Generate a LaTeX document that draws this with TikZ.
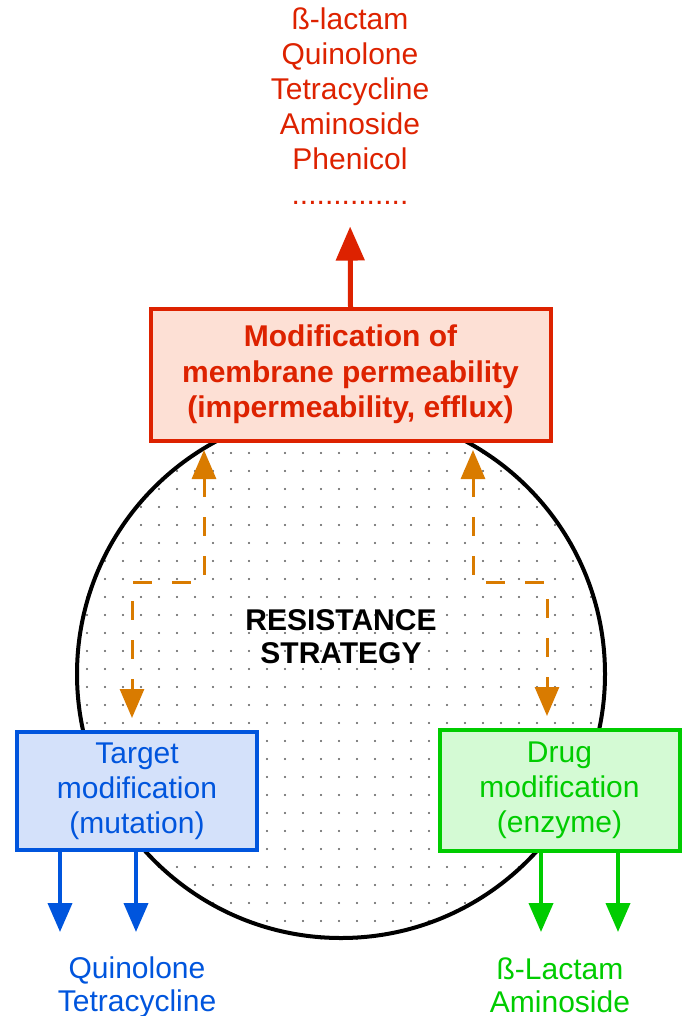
\documentclass[tikz,border=0pt]{standalone}
\usepackage{fontspec}
\setmainfont{Liberation Sans}
\usetikzlibrary{arrows.meta,positioning}

\definecolor{permred}{RGB}{221,34,0}
\definecolor{permfill}{RGB}{253,224,213}
\definecolor{targetblue}{RGB}{0,85,221}
\definecolor{targetfill}{RGB}{212,225,250}
\definecolor{druggreen}{RGB}{0,204,0}
\definecolor{drugfill}{RGB}{212,250,212}
\definecolor{linkorange}{RGB}{217,123,0}

\begin{document}
\begin{tikzpicture}[x=0.5pt,y=-0.5pt,
    txt/.style={align=center,inner sep=0pt,font=\fontsize{15}{17.5}\selectfont},
    box/.style={txt,draw,line width=2pt},
    drop/.style={line width=2pt,-{Triangle[width=12pt,length=14.5pt]}},
    link/.style={draw=linkorange,line width=1.5pt,dash pattern=on 9.5pt off 10pt,
      {Triangle[width=12pt,length=14.5pt]}-{Triangle[width=12pt,length=14.5pt]},
      shorten <=3.5pt,shorten >=6pt}]
    \useasboundingbox (0,0) rectangle (681,1016);
    % dotted inside of the circle
    \begin{scope}
      \clip (341,674) circle [radius=133pt];
      \foreach \i in {0,...,33}
        \foreach \j in {0,...,29}
          \fill[black!65] (15+18*\i,417+18*\j) circle [radius=0.55pt];
    \end{scope}
    \node[circle,draw,line width=2pt,minimum size=264pt,inner sep=0pt] (ring) at (341,674) {};
    \node[txt,anchor=north,font=\fontsize{15}{16.5}\selectfont\bfseries] (strategy) at (341,609.5) {RESISTANCE\\STRATEGY};

    % the three boxes
    \node[box,draw=permred,fill=permfill,text=permred,font=\fontsize{15}{17.5}\selectfont\bfseries,
      minimum width=200pt,minimum height=66pt] (perm) at (350.5,375)
      {\raisebox{-1.5pt}{\begin{tabular}{@{}c@{}}Modification of\\[0.2pt]membrane permeability\\[0.2pt](impermeability, efflux)\end{tabular}}};
    \node[box,draw=targetblue,fill=targetfill,text=targetblue,
      minimum width=120pt,minimum height=59pt] (target) at (137,791)
      {Target\\modification\\(mutation)};
    \node[box,draw=druggreen,fill=drugfill,text=druggreen,
      minimum width=120pt,minimum height=60.5pt] (drug) at (559.5,790.5)
      {Drug\\modification\\(enzyme)};

    % antibiotics
    \node[txt,anchor=north,text=permred] (agents) at (350,7)
      {ß-lactam\\Quinolone\\Tetracycline\\Aminoside\\Phenicol\\..............};
    \node[txt,anchor=north,text=targetblue,font=\fontsize{15}{16.5}\selectfont] (targetdrugs) at (137,956)
      {Quinolone\\Tetracycline};
    \node[txt,anchor=north,text=druggreen,font=\fontsize{15}{16.5}\selectfont] (drugdrugs) at (560,957)
      {ß-Lactam\\Aminoside};

    \draw[drop,draw=permred,line width=2.5pt,-{Triangle[width=14pt,length=17pt]},shorten >=11pt] (perm.north) -- (agents.south);

    \coordinate (tgA) at (60,932);
    \coordinate (tgB) at (136,932);
    \coordinate (dgA) at (541,932);
    \coordinate (dgB) at (618,932);
    \draw[drop,draw=targetblue] (target.south -| tgA) -- (tgA);
    \draw[drop,draw=targetblue] (target.south -| tgB) -- (tgB);
    \draw[drop,draw=druggreen] (drug.south -| dgA) -- (dgA);
    \draw[drop,draw=druggreen] (drug.south -| dgB) -- (dgB);

    % dashed links
    \draw[link] (204,0 |- perm.south) |- (132,582) -- (132,0 |- target.north);
    \draw[link] (473,0 |- perm.south) |- (547,582) -- (547,0 |- drug.north);
\end{tikzpicture}
\end{document}
